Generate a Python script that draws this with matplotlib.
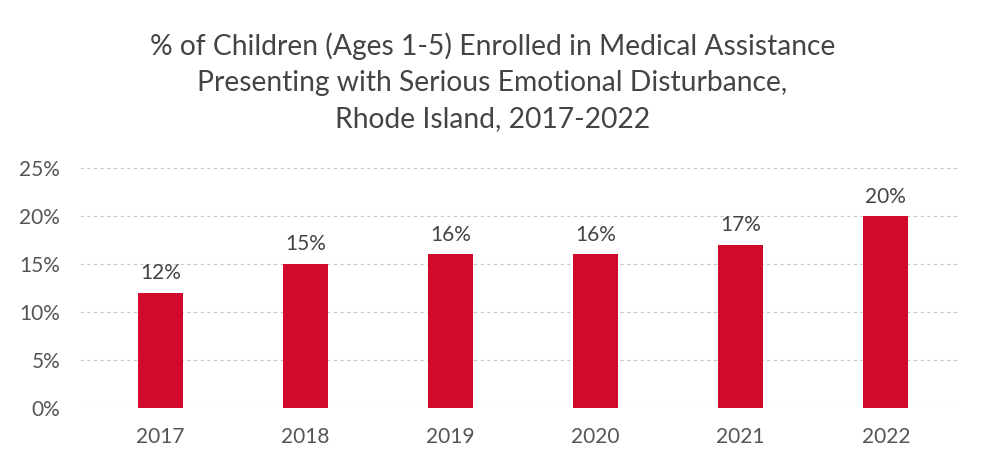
#!/usr/bin/env python3

import matplotlib
matplotlib.use("Agg")
import matplotlib.pyplot as plt
from matplotlib.ticker import FuncFormatter

plt.rcParams['font.family'] = ['Lato', 'DejaVu Sans']

years = ["2017", "2018", "2019", "2020", "2021", "2022"]
shares = [12, 15, 16, 16, 17, 20]

BAR_COLOR = "#D10A2C"
TEXT_COLOR = "#555555"

fig = plt.figure(figsize=(9.85, 4.71), dpi=100)
ax = fig.add_axes([0.081, 0.134, 0.894, 0.509])

x = range(len(years))
bars = ax.bar(x, shares, width=0.31, color=BAR_COLOR, zorder=3)

for rect, val in zip(bars, shares):
  ax.text(rect.get_x() + rect.get_width() / 2, val + 1.0, "{}%".format(val),
          ha='center', va='bottom', fontsize=15, color="#444444")

ax.set_ylim(0, 25)
ax.set_xlim(-0.555, len(years) - 0.486)
ax.set_yticks(range(0, 26, 5))
ax.yaxis.set_major_formatter(FuncFormatter(lambda v, p: "{:d}%".format(int(v))))
ax.set_xticks(list(x))
ax.set_xticklabels(years)
ax.tick_params(axis='both', length=0, labelsize=15, colors=TEXT_COLOR)
ax.tick_params(axis='x', pad=14)
ax.tick_params(axis='y', pad=14)
ax.grid(axis='y', color="#c8c8c8", linestyle=(0, (3, 3)), linewidth=0.8, zorder=0)
for side in ax.spines.values():
  side.set_visible(False)

fig.text(0.5, 0.932,
         "% of Children (Ages 1-5) Enrolled in Medical Assistance\n"
         "Presenting with Serious Emotional Disturbance,\n"
         "Rhode Island, 2017-2022",
         ha='center', va='top', fontsize=20.3, color="#444444", linespacing=1.48)

fig.patch.set_facecolor("white")
plt.savefig("out.png", dpi=100)
